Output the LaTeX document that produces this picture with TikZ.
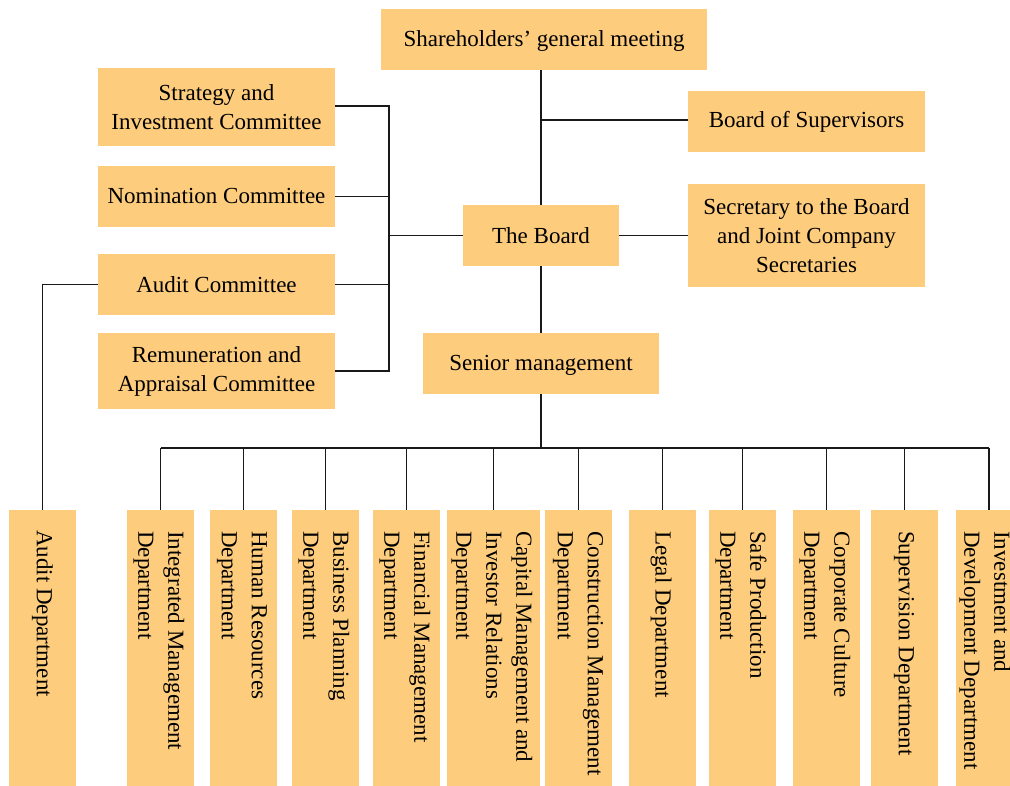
\documentclass[tikz,border=0pt]{standalone}
\usepackage{fontspec}
\setmainfont{Liberation Serif}
\definecolor{boxfill}{HTML}{FDCC7D}
\tikzset{
  box/.style={fill=boxfill, inner sep=0pt, align=center, text=black, font=\fontsize{23}{29}\selectfont},
  dept/.style={fill=boxfill, inner sep=0pt, minimum width=67pt, minimum height=276pt},
  depttext/.style={rotate=-90, anchor=west, align=left, inner sep=0pt, text=black, font=\fontsize{23}{30}\selectfont},
  conn/.style={line width=1.2pt, draw=black!90}
}
\begin{document}
\begin{tikzpicture}[x=1pt,y=-1pt]
\useasboundingbox (0,0) rectangle (1010,786);
% top level boxes
\node[box, minimum width=326pt, minimum height=61pt, text depth=2pt] (sh) at (544,39.5) {Shareholders’ general meeting};
\node[box, minimum width=237pt, minimum height=61pt] (bos) at (806.5,121.5) {Board of Supervisors};
\node[box, minimum width=237pt, minimum height=103pt] (sec) at (806.5,235.5) {Secretary to the Board\\and Joint Company\\Secretaries};
\node[box, minimum width=156pt, minimum height=61pt] (board) at (541,235.5) {The Board};
\node[box, minimum width=236pt, minimum height=61pt, text depth=2pt] (sm) at (541,363.5) {Senior management};
% committees
\node[box, minimum width=237pt, minimum height=78pt] (sic) at (216.5,107) {Strategy and\\Investment Committee};
\node[box, minimum width=237pt, minimum height=61pt] (nc) at (216.5,196.5) {Nomination Committee};
\node[box, minimum width=237pt, minimum height=61pt] (ac) at (216.5,284.5) {Audit Committee};
\node[box, minimum width=237pt, minimum height=76pt] (rac) at (216.5,371) {Remuneration and\\Appraisal Committee};
% departments
\node[dept] (ad) at (42.5,648) {};
\node[dept] (d1) at (160.5,648) {};
\node[dept] (d2) at (243.5,648) {};
\node[dept] (d3) at (325.5,648) {};
\node[dept] (d4) at (406.5,648) {};
\node[dept, minimum width=93pt] (d5) at (493.5,648) {};
\node[dept] (d6) at (578.5,648) {};
\node[dept] (d7) at (662.5,648) {};
\node[dept] (d8) at (742.5,648) {};
\node[dept] (d9) at (826.5,648) {};
\node[dept] (d10) at (904.5,648) {};
\node[dept] (d11) at (989,648) {};
\node[depttext] (adt) at (42.5,530) {Audit Department};
\node[depttext] (d1t) at (159,531) {Integrated Management\\Department};
\node[depttext] (d2t) at (242,531) {Human Resources\\Department};
\node[depttext] (d3t) at (324,531) {Business Planning\\Department};
\node[depttext] (d4t) at (405,531) {Financial Management\\Department};
\node[depttext] (d5t) at (492,531) {Capital Management and\\Investor Relations\\Department};
\node[depttext] (d6t) at (578,531) {Construction Management\\Department};
\node[depttext] (d7t) at (661,531) {Legal Department};
\node[depttext] (d8t) at (741,531) {Safe Production\\Department};
\node[depttext] (d9t) at (825,531) {Corporate Culture\\Department};
\node[depttext] (d10t) at (904,531) {Supervision Department};
\node[depttext] (d11t) at (985,531) {Investment and\\Development Department};
% connectors
\coordinate (brk) at (389,235.5);
\coordinate (bus) at (541,448);
\draw[conn] (board.north) -- (board.north |- sh.south);
\draw[conn] (bos.west |- 0,120) -- (board.north |- 0,120);
\draw[conn] (board.east) -- (board.east -| sec.west);
\draw[conn] (board.south) -- (sm.north);
\draw[conn] (board.west) -- (brk);
\draw[conn] (sic.east |- 0,106) -| (brk) |- (rac.east);
\draw[conn] (nc.east) -- (nc.east -| brk);
\draw[conn] (ac.east) -- (ac.east -| brk);
\draw[conn] (ac.west) -| (ad.north);
\draw[conn] (sm.south) -- (bus);
\draw[conn] (d1.north |- bus) -- (d11.north |- bus);
\foreach \d in {d1,d2,d3,d4,d5,d6,d7,d8,d9,d10,d11}
  \draw[conn] (\d.north) -- (\d.north |- bus);
\end{tikzpicture}
\end{document}
